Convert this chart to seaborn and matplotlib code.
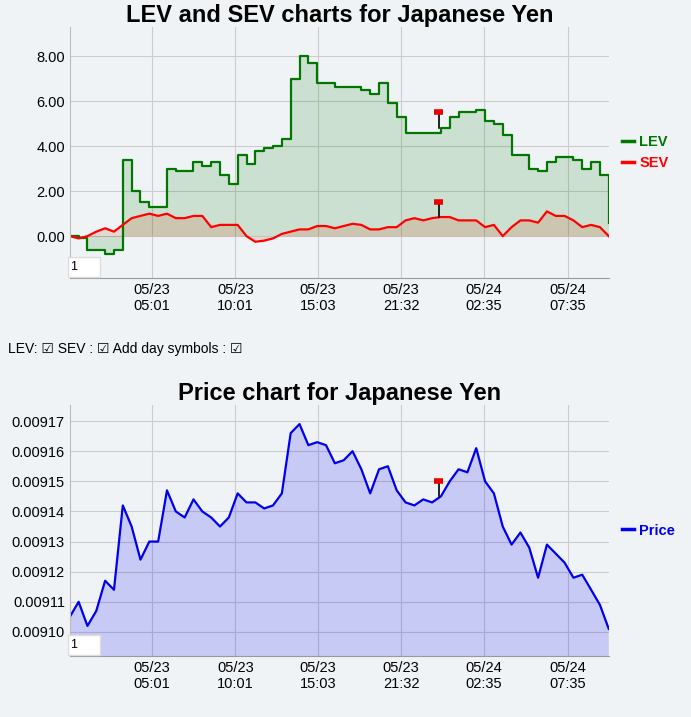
import matplotlib
matplotlib.use("Agg")
import matplotlib.pyplot as plt
import seaborn as sns
import numpy as np
import pandas as pd

plt.rcParams["font.family"] = "Liberation Sans"

lev = [0.0,-0.1,-0.6,-0.6,-0.8,-0.6,3.4,2.0,1.5,1.3,1.3,3.0,2.9,2.9,3.3,3.1,3.3,2.7,2.3,3.6,3.2,3.8,3.9,4.0,4.3,7.0,8.0,7.7,6.8,6.8,6.65,6.65,6.65,6.5,6.3,6.8,5.9,5.3,4.6,4.6,4.6,4.6,4.8,5.3,5.5,5.5,5.6,5.1,5.0,4.5,3.6,3.6,3.0,2.9,3.3,3.5,3.5,3.4,3.0,3.3,2.7,0.6]
sev = [0,-0.1,0.0,0.2,0.35,0.2,0.5,0.8,0.9,1.0,0.9,1.0,0.8,0.8,0.9,0.9,0.4,0.5,0.5,0.5,0.0,-0.25,-0.2,-0.1,0.1,0.2,0.3,0.3,0.45,0.45,0.35,0.45,0.55,0.5,0.3,0.3,0.4,0.4,0.7,0.8,0.7,0.8,0.85,0.85,0.7,0.7,0.7,0.4,0.5,0.0,0.4,0.7,0.7,0.6,1.1,0.9,0.9,0.7,0.4,0.5,0.4,0.0]
price = [0.009105,0.009110,0.009102,0.009107,0.009117,0.009114,0.009142,0.009135,0.009124,0.009130,0.009130,0.009147,0.009140,0.009138,0.009144,0.009140,0.009138,0.009135,0.009138,0.009146,0.009143,0.009143,0.009141,0.009142,0.009146,0.009166,0.009169,0.009162,0.009163,0.009162,0.009156,0.009157,0.009160,0.009154,0.009146,0.009154,0.009155,0.009147,0.009143,0.009142,0.009144,0.009143,0.009145,0.009150,0.009154,0.009153,0.009161,0.009150,0.009146,0.009135,0.009129,0.009133,0.009128,0.009118,0.009129,0.009126,0.009123,0.009118,0.009119,0.009114,0.009109,0.009101]
tick_pos = [9.25, 18.75, 28.1, 37.5, 46.9, 56.35]
tick_labels = ["05/23\n05:01","05/23\n10:01","05/23\n15:03","05/23\n21:32","05/24\n02:35","05/24\n07:35"]
flag_idx = 41.75
flag_lev, flag_sev, flag_price = 5.5, 1.5, 0.00915

bg = "#f0f3f6"
x = np.arange(len(lev))
df = pd.DataFrame({"x": x, "LEV": lev, "SEV": sev, "Price": price})

fig = plt.figure(figsize=(6.91, 7.17), dpi=100, facecolor=bg)
ax1 = fig.add_axes([0.101, 0.612, 0.780, 0.350], facecolor=bg)
ax2 = fig.add_axes([0.101, 0.085, 0.780, 0.350], facecolor=bg)

sns.lineplot(data=df, x="x", y="LEV", ax=ax1, color="#007700", lw=1.6, label="LEV", drawstyle="steps-post")
sns.lineplot(data=df, x="x", y="SEV", ax=ax1, color="#ff0000", lw=1.6, label="SEV")
ax1.fill_between(x, lev, 0, color="#007700", alpha=0.15, lw=0, step="post")
ax1.fill_between(x, sev, 0, color="#cc3300", alpha=0.15, lw=0)
ax1.set_ylim(-1.87, 9.29)
ax1.set_yticks([0, 2, 4, 6, 8])
ax1.set_yticklabels(["0.00", "2.00", "4.00", "6.00", "8.00"])

sns.lineplot(data=df, x="x", y="Price", ax=ax2, color="#0000ee", lw=1.6, label="Price")
ax2.fill_between(x, price, 0.0, color="#0000ee", alpha=0.17, lw=0)
ax2.set_ylim(0.009092, 0.0091753)
yt = [0.00910 + i * 0.00001 for i in range(8)]
ax2.set_yticks(yt)
ax2.set_yticklabels([f"{v:.5f}" for v in yt])

def flag(ax, xi, yb, yt_):
    ax.plot([xi, xi], [yb, yt_], color="black", lw=1.2)
    ax.plot([xi - 0.5, xi + 0.5], [yt_, yt_], color="#ee0000", lw=4, solid_capstyle="butt")

flag(ax1, flag_idx, 4.8, flag_lev)
flag(ax1, flag_idx, 0.85, flag_sev)
flag(ax2, flag_idx, 0.009145, flag_price)

for ax, title in [(ax1, "LEV and SEV charts for Japanese Yen"), (ax2, "Price chart for Japanese Yen")]:
    ax.set_xlim(0, len(lev) - 1)
    ax.set_xticks(tick_pos)
    ax.set_xticklabels(tick_labels, fontsize=10.5)
    ax.tick_params(axis="y", labelsize=10.5, length=0)
    ax.tick_params(axis="x", length=0)
    ax.grid(True, color="#cccccc", lw=0.8)
    ax.set_axisbelow(True)
    for s in ["top", "right"]:
        ax.spines[s].set_visible(False)
    ax.spines["left"].set_color("#bbbbbb")
    ax.spines["bottom"].set_color("#999999")
    ax.set_xlabel("")
    ax.set_ylabel("")
    ax.set_title(title, fontsize=17, fontweight="bold", pad=4)
    leg = ax.legend(loc="center left", bbox_to_anchor=(1.0, 0.5), frameon=False,
                    handlelength=0.8, handletextpad=0.4, fontsize=10.5)
    for t, l in zip(leg.get_texts(), leg.get_lines()):
        t.set_color(l.get_color())
        t.set_fontweight("bold")
        l.set_linewidth(2.5)
    ax.text(0.003, 0.02, "1     ", transform=ax.transAxes, fontsize=9, va="bottom",
            bbox=dict(boxstyle="square,pad=0.3", fc="white", ec="#dddddd"))

fig.text(0.012, 0.513, "LEV: \u2611 SEV : \u2611 Add day symbols : \u2611", fontsize=10, va="center",
         fontfamily=["Liberation Sans", "DejaVu Sans"])
fig.savefig("out.png", dpi=100, facecolor=bg)
